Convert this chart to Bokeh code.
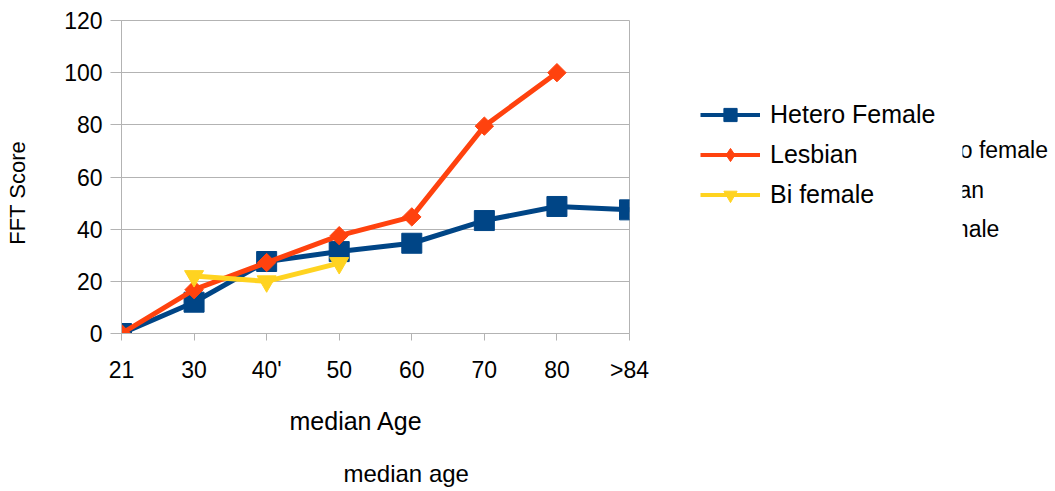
import numpy as np
from bokeh.plotting import figure
from bokeh.models import Range1d, FixedTicker, Legend, LegendItem, Title
from bokeh.layouts import row
from bokeh.embed import file_html
from bokeh.resources import INLINE
from bokeh.core.properties import value

# ---- data ----
categories = ["21", "30", "40'", "50", "60", "70", "80", ">84"]
hetero_female = [0, 12, 27.6, 31.4, 34.6, 43.3, 48.7, 47.4]
lesbian = [0, 16.8, 27.2, 37.5, 44.7, 79.5, 100]
bi_female_cats = ["30", "40'", "50"]
bi_female = [22, 20, 27]
series_names = ["Hetero Female", "Lesbian", "Bi female"]
ghost_names = ["Hetero female", "Lesbian", "Bi female"]
y_ticks = [0, 20, 40, 60, 80, 100, 120]
x_title = "median Age"
y_title = "FFT Score"
ghost_x_title = "median age"
colors = ["#004586", "#ff420e", "#ffd320"]
markers = ["square", "square", "inverted_triangle"]
legend_markers = ["square", "diamond", "inverted_triangle"]

FONT = "Liberation Sans"
GRID = "#b3b3b3"

TW, TH = 1055, 491                  # whole picture
SW = 40                             # strip holding the y title
PW = 690 - SW                       # main chart panel width
LW = 272                            # legend panel width
RW = TW - SW - PW - LW              # ghost legend strip
FL, FT, FR, FB = 121, 20, 629, 336  # frame edges in picture px


def aux(width):
    f = figure(width=width, height=TH, output_backend="svg", toolbar_location=None,
               x_range=Range1d(0, width), y_range=Range1d(FB, FT),
               min_border_left=0, min_border_right=0,
               min_border_top=FT, min_border_bottom=TH - FB,
               x_axis_type=None, y_axis_type=None)
    f.grid.visible = False
    f.outline_line_color = None
    f.border_fill_color = "white"
    f.background_fill_color = "white"
    return f


# y title strip
sf = aux(SW)
sf.text(x=[17], y=[194], text=[y_title], angle=np.pi / 2,
        text_font=value(FONT), text_font_size="22px", text_align="center",
        text_baseline="alphabetic", text_color="black")

p = figure(width=PW, height=TH, output_backend="svg", toolbar_location=None,
           x_range=Range1d(0, len(categories) - 1), y_range=Range1d(0, 120),
           min_border_left=FL - SW, min_border_top=FT,
           min_border_right=SW + PW - FR, min_border_bottom=TH - FB)
p.outline_line_color = GRID
p.background_fill_color = "white"
p.border_fill_color = "white"

idx = {c: i for i, c in enumerate(categories)}

p.xaxis.ticker = FixedTicker(ticks=list(range(len(categories))))
p.xaxis.major_label_overrides = {i: c for i, c in enumerate(categories)}
p.yaxis.ticker = FixedTicker(ticks=y_ticks)
for ax in (p.xaxis, p.yaxis):
    ax.axis_line_color = GRID
    ax.major_tick_line_color = GRID
    ax.minor_tick_line_color = None
    ax.major_tick_in = 0
    ax.major_label_text_font = FONT
    ax.major_label_text_font_size = "23px"
    ax.major_label_text_color = "black"
p.xaxis.major_tick_out = 7
p.xaxis.major_label_standoff = 16
p.yaxis.major_tick_out = 11
p.yaxis.major_label_standoff = 8
p.xgrid.visible = False
p.ygrid.ticker = FixedTicker(ticks=y_ticks)
p.ygrid.grid_line_color = GRID

# series
hx = [idx[c] for c in categories[:len(hetero_female)]]
lx = [idx[c] for c in categories[:len(lesbian)]]
bx = [idx[c] for c in bi_female_cats]

p.line(hx, hetero_female, line_color=colors[0], line_width=5)
p.scatter(hx, hetero_female, marker=markers[0], size=20, fill_color=colors[0], line_color=colors[0])
p.line(lx, lesbian, line_color=colors[1], line_width=5)
p.scatter(lx, lesbian, marker=markers[1], angle=np.pi / 4, size=13, fill_color=colors[1], line_color=colors[1])
p.line(bx, bi_female, line_color=colors[2], line_width=5)
p.scatter(bx, bi_female, marker=markers[2], size=19, fill_color=colors[2], line_color=colors[2])

# x title (placed like the original, off-centre) and the ghost title below it
p.add_layout(Title(text=x_title, align="left", offset=168, standoff=38,
                   text_font=FONT, text_font_size="25px", text_font_style="normal",
                   text_color="black"), "below")
p.add_layout(Title(text=ghost_x_title, align="left", offset=222, standoff=9,
                   text_font=FONT, text_font_size="24px", text_font_style="normal",
                   text_color="black"), "below")

# legend panel
lf = aux(LW)
items = []
for i, name in enumerate(series_names):
    lr = lf.line([-10, -9], [-10, -10], line_color=colors[i], line_width=4)
    mr = lf.scatter([-10], [-10], marker=legend_markers[i], fill_color=colors[i],
                    line_color=colors[i])
    items.append(LegendItem(label=name, renderers=[lr, mr]))
legend = Legend(items=items, location=(700 - SW - PW, FB - 214),
                glyph_width=60, glyph_height=33, label_height=33,
                spacing=7, padding=0, margin=0, label_standoff=10,
                label_text_font=FONT, label_text_font_size="25px",
                label_text_color="black",
                border_line_color=None, background_fill_alpha=0)
lf.add_layout(legend)

# ghost (partly hidden) legend at the right edge
rf = aux(RW)
x0 = SW + PW + LW
rf.text(x=[903 - x0] * 3, y=[151, 191, 231], text=ghost_names,
        text_font=value(FONT), text_font_size="23px", text_baseline="alphabetic",
        text_color="black")

layout = row(sf, p, lf, rf)
open("out.html", "w").write(file_html(layout, INLINE))
